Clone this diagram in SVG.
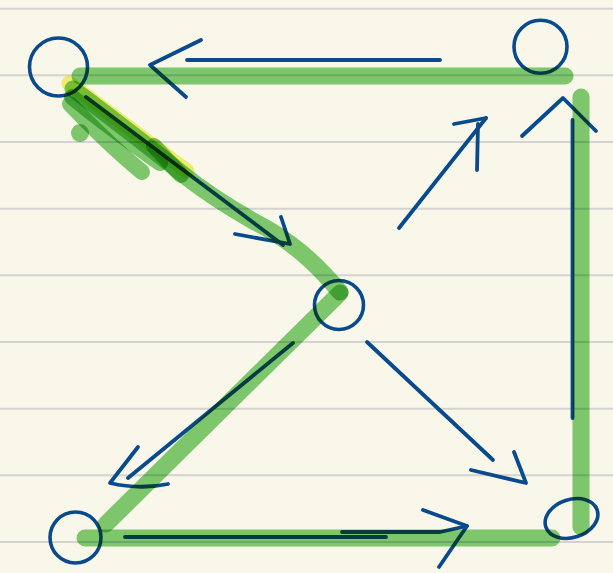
<svg xmlns="http://www.w3.org/2000/svg" width="613" height="573" viewBox="0 0 613 573">
<style>
.rule{stroke:#d3d3d1;stroke-width:2}
.node{fill:none;stroke:#084a8c;stroke-width:3.6}
.ink{fill:none;stroke:#084a8c;stroke-width:3.8;stroke-linecap:round;stroke-linejoin:round}
.hl{fill:none;stroke:#80cd76;stroke-width:17;stroke-linecap:round;stroke-linejoin:round;mix-blend-mode:multiply}
.hl2{fill:none;stroke:#80cd76;stroke-width:16;stroke-linecap:round;stroke-linejoin:round;mix-blend-mode:multiply}
.yl{fill:none;stroke:#f6f279;stroke-width:15;stroke-linecap:round;mix-blend-mode:multiply}
</style>
<rect width="613" height="573" fill="#f9f7ea"/>
<g id="paper-rules">
<line class="rule" x1="0" y1="8.7" x2="613" y2="8.7"/>
<line class="rule" x1="0" y1="75.3" x2="613" y2="75.3"/>
<line class="rule" x1="0" y1="142" x2="613" y2="142"/>
<line class="rule" x1="0" y1="208.7" x2="613" y2="208.7"/>
<line class="rule" x1="0" y1="275.3" x2="613" y2="275.3"/>
<line class="rule" x1="0" y1="342" x2="613" y2="342"/>
<line class="rule" x1="0" y1="408.7" x2="613" y2="408.7"/>
<line class="rule" x1="0" y1="475.3" x2="613" y2="475.3"/>
<line class="rule" x1="0" y1="542" x2="613" y2="542"/>
</g>
<g id="node-top-left"><circle class="node" cx="58.5" cy="67" r="29"/></g>
<g id="node-top-right"><circle class="node" cx="540.5" cy="46.7" r="26.5"/></g>
<g id="node-middle"><circle class="node" cx="339" cy="305" r="24.5"/></g>
<g id="node-bottom-left"><circle class="node" cx="75.5" cy="537.5" r="25.5"/></g>
<g id="node-bottom-right"><ellipse class="node" cx="571.5" cy="518.5" rx="27" ry="19" transform="rotate(-18 571.5 518.5)"/></g>
<g id="connectors">
<line class="ink" x1="187" y1="60" x2="440" y2="60"/>
<polyline class="ink" points="201,40 150,65 186,97"/>
<line class="ink" x1="86" y1="97" x2="283" y2="245"/>
<polyline class="ink" points="235,234 290,244 281,217"/>
<line class="ink" x1="399" y1="228" x2="486" y2="118"/>
<polyline class="ink" points="454,124 486,118"/>
<line class="ink" x1="477" y1="170" x2="478" y2="124"/>
<line class="ink" x1="572.5" y1="418" x2="572.5" y2="120"/>
<polyline class="ink" points="522,136 563,98 596,131"/>
<line class="ink" x1="367" y1="342" x2="493" y2="460"/>
<polyline class="ink" points="471,470 526,483 514,452"/>
<line class="ink" x1="293" y1="343" x2="128" y2="478"/>
<path class="ink" d="M138,447 L110,483 Q140,490 168,484"/>
<line class="ink" x1="125" y1="537" x2="386" y2="537"/>
<polyline class="ink" points="342,532 440,532 467,526"/>
<polyline class="ink" points="423,510 467,526 439,567"/>
</g>
<g id="highlight-path">
<line class="yl" x1="69" y1="83" x2="187" y2="171"/>
<line class="hl" x1="80" y1="76" x2="565" y2="76"/>
<line class="hl" x1="581" y1="97" x2="581" y2="527"/>
<line class="hl" x1="85" y1="538" x2="552" y2="538"/>
<line class="hl" x1="340" y1="293" x2="106" y2="524"/>
<path class="hl" d="M73,89 C110,117 150,147 180,172 C202,190 225,205 255,222 C290,240 315,262 340,292"/>
<path class="hl2" d="M70,104 C92,127 115,150 142,172"/>
<path class="hl2" d="M72,97 C100,120 130,142 160,163"/>
<path class="hl2" d="M154,146 L181,175"/>
<circle cx="80" cy="133" r="9" fill="#80cd76" style="mix-blend-mode:multiply"/>
</g>
</svg>
